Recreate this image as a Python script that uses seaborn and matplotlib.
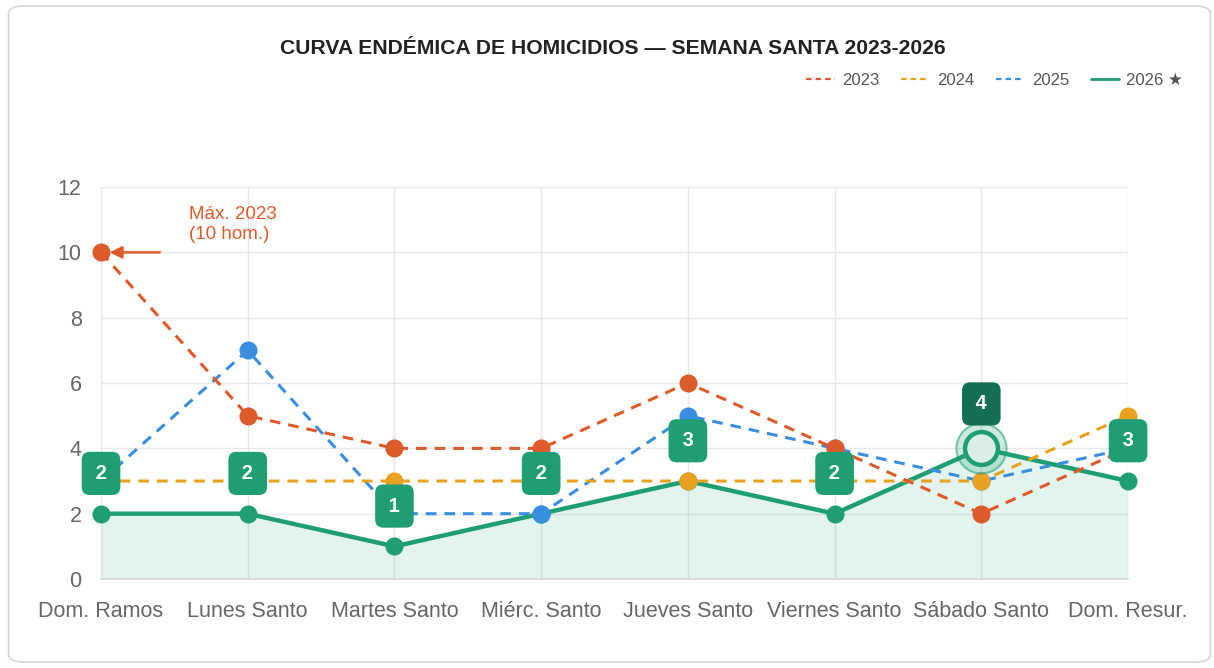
import numpy as np
import matplotlib
matplotlib.use("Agg")
import matplotlib.pyplot as plt
from matplotlib.patches import FancyBboxPatch
from matplotlib.lines import Line2D
import seaborn as sns

# data
dias = ['Dom. Ramos', 'Lunes Santo', 'Martes Santo', 'Miérc. Santo',
        'Jueves Santo', 'Viernes Santo', 'Sábado Santo', 'Dom. Resur.']
y2023 = [10, 5, 4, 4, 6, 4, 2, 4]
y2024 = [3, 3, 3, 3, 3, 3, 3, 5]
y2025 = [3, 7, 2, 2, 5, 4, 3, 4]
y2026 = [2, 2, 1, 2, 3, 2, 4, 3]
pico_idx = 6  # día resaltado 2026

c23, c24, c25, c26 = '#dd5a2b', '#e8a21f', '#3a8ee0', '#1f9e74'
dark26 = '#136e53'

sns.set_theme(style='white')
plt.rcParams['font.family'] = ['Liberation Sans', 'DejaVu Sans']

fig = plt.figure(figsize=(12.14, 6.68), dpi=100)
ax = fig.add_axes([0.0832, 0.1332, 0.846, 0.5868])

x = np.arange(len(dias))

# card border
fig.patches.append(FancyBboxPatch((0.007, 0.009), 0.99, 0.982, boxstyle='round,pad=0,rounding_size=0.012',
                                  transform=fig.transFigure, fc='white', ec='#d6d6d6', lw=1.2, zorder=-10))

ax.fill_between(x, y2026, 0, color=c26, alpha=0.12, lw=0, zorder=1)
sns.lineplot(x=x, y=y2026, ax=ax, color=c26, lw=3.2, marker='o', markersize=13,
             markeredgewidth=0, zorder=2, clip_on=False)
for vals, col, z in [(y2025, c25, 3), (y2024, c24, 4), (y2023, c23, 5)]:
    sns.lineplot(x=x, y=vals, ax=ax, color=col, lw=2.2, linestyle=(0, (3.5, 2.6)), marker='o',
                 markersize=13, markeredgewidth=0, zorder=z, clip_on=False)

# highlighted point
ax.scatter([x[pico_idx]], [y2026[pico_idx]], s=1300, facecolor=(0.12, 0.62, 0.45, 0.22),
           edgecolor=(0.12, 0.62, 0.45, 0.55), lw=1.5, zorder=6, clip_on=False)
ax.scatter([x[pico_idx]], [y2026[pico_idx]], s=560, facecolor='#dcefe7', edgecolor=c26, lw=3.2,
           zorder=7, clip_on=False)

# value labels
for i, v in enumerate(y2026):
    hi = i == pico_idx
    ax.annotate(f'\u200a{v}\u200a', (x[i], v), xytext=(0, 32 if hi else 29), textcoords='offset points',
                ha='center', va='center', color='white', fontsize=14.5, fontweight='bold', zorder=10,
                bbox=dict(boxstyle='round,pad=0.6,rounding_size=0.4',
                          fc=dark26 if hi else c26, ec='none'))

# annotation max 2023
imax = int(np.argmax(y2023))
ax.annotate('', xy=(x[imax] + 0.04, y2023[imax]), xytext=(x[imax] + 0.42, y2023[imax]),
            arrowprops=dict(arrowstyle='-|>', color=c23, lw=1.8, mutation_scale=18), zorder=8)
ax.text(x[imax] + 0.6, y2023[imax] + 0.85, 'Máx. 2023\n(10 hom.)', color=c23, fontsize=13.5,
        ha='left', va='center', linespacing=1.2)

ax.set_xlim(0, 7)
ax.set_ylim(0, 12)
ax.set_xticks(x)
ax.set_xticklabels(dias)
ax.set_yticks(range(0, 13, 2))
ax.grid(True, color='#e8e8e8', lw=1)
ax.tick_params(axis='both', length=10, color='#e8e8e8', labelsize=15.5, labelcolor='#666666', pad=4)
ax.tick_params(axis='x', pad=6)
for s in ['top', 'right', 'left']:
    ax.spines[s].set_visible(False)
ax.spines['bottom'].set_color('#d8d8d8')
ax.set_xlabel('')
ax.set_ylabel('')

fig.text(0.505, 0.928, 'CURVA ENDÉMICA DE HOMICIDIOS — SEMANA SANTA 2023-2026', ha='center', va='center',
         fontsize=15.2, fontweight='bold', color='#222222')

handles = [Line2D([0], [0], color=c23, lw=1.6, ls=(0, (2.5, 1.8))),
           Line2D([0], [0], color=c24, lw=1.6, ls=(0, (2.5, 1.8))),
           Line2D([0], [0], color=c25, lw=1.6, ls=(0, (2.5, 1.8))),
           Line2D([0], [0], color=c26, lw=2)]
leg = fig.legend(handles, ['2023', '2024', '2025', '2026 ★'], loc='center right',
                 bbox_to_anchor=(0.987, 0.88), ncol=4, frameon=False, fontsize=12,
                 handlelength=1.7, columnspacing=1.3, handletextpad=0.45)
for t in leg.get_texts():
    t.set_color('#555555')

fig.savefig('out.png', dpi=100)
